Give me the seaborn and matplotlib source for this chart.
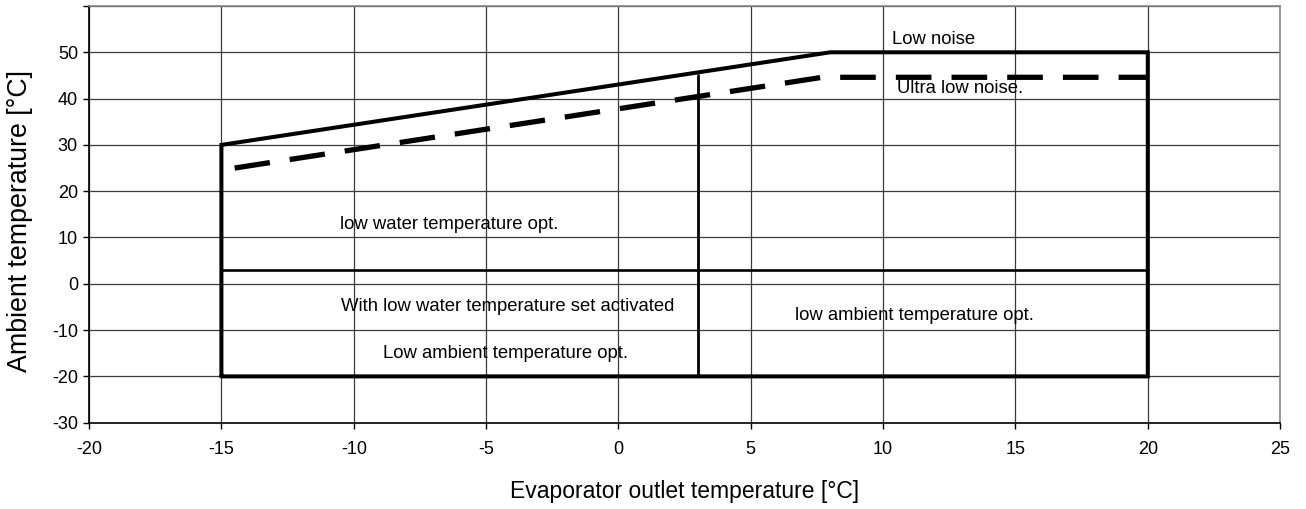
import numpy as np
import pandas as pd
import matplotlib
matplotlib.use("Agg")
import matplotlib.pyplot as plt
import seaborn as sns


# Operating envelope (solid outline, low noise limit)
envelope_x = [-15, -15, 8, 20, 20, -15]
envelope_y = [-20, 30, 50, 50, -20, -20]

# Ultra low noise limit (dashed)
ulnoise_x = [-14.5, 7.7, 20]
ulnoise_y = [25, 44.6, 44.6]

# Internal split lines
split_h_x = [-15, 20]
split_h_y = [3, 3]
split_v_x = [3, 3]
split_v_y = [-20, 45]

x_ticks = list(range(-20, 26, 5))
y_ticks = list(range(-30, 61, 10))
y_ticklabels = [str(v) for v in y_ticks[:-1]] + [""]


def draw_line(ax, xs, ys, **kw):
    df = pd.DataFrame({"x": xs, "y": ys})
    sns.lineplot(data=df, x="x", y="y", sort=False, estimator=None, color="black",
                 ax=ax, zorder=3, **kw)


def main():
    sns.set_style("white")
    plt.rcParams["font.family"] = ["Liberation Sans", "DejaVu Sans"]
    plt.rcParams["axes.unicode_minus"] = False
    for key in ["text.color", "axes.labelcolor", "xtick.color", "ytick.color"]:
        plt.rcParams[key] = "black"

    fig = plt.figure(figsize=(13.06, 5.09), dpi=100)
    ax = fig.add_axes([0.0682, 0.1696, 0.9120, 0.8186])

    # grid lines
    for xv in x_ticks:
        ax.axvline(xv, color="#3a3a3a", lw=0.9, zorder=1)
    for yv in y_ticks:
        ax.axhline(yv, color="#3a3a3a", lw=0.9, zorder=1)

    draw_line(ax, envelope_x, envelope_y, linewidth=2.9, solid_joinstyle="miter")
    draw_line(ax, ulnoise_x, ulnoise_y, linewidth=3.8, linestyle=(0, (6.75, 3.8)),
              dash_capstyle="butt")
    draw_line(ax, split_h_x, split_h_y, linewidth=1.9)
    draw_line(ax, split_v_x, split_v_y, linewidth=2.0)

    # region labels
    fs = 13.3
    ax.text(11.9, 52.7, "Low noise", fontsize=fs, ha="center", va="center")
    ax.text(12.9, 42.1, "Ultra low noise.", fontsize=fs, ha="center", va="center")
    ax.text(-6.4, 12.7, "low water temperature opt.", fontsize=fs, ha="center", va="center")
    ax.text(-4.2, -5.0, "With low water temperature set activated", fontsize=fs,
            ha="center", va="center")
    ax.text(-4.25, -15.1, "Low ambient temperature opt.", fontsize=fs, ha="center", va="center")
    ax.text(11.2, -6.8, "low ambient temperature opt.", fontsize=fs, ha="center", va="center")

    ax.set_xlim(-20, 25)
    ax.set_ylim(-30, 60)
    ax.set_xticks(x_ticks)
    ax.set_yticks(y_ticks)
    ax.set_yticklabels(y_ticklabels)
    ax.tick_params(axis="both", labelsize=13, direction="out", length=4, width=1,
                   color="black", left=True, bottom=True)
    ax.tick_params(axis="x", pad=9)
    ax.tick_params(axis="y", pad=4)
    ax.set_xlabel("Evaporator outlet temperature [°C]", fontsize=16.5, labelpad=16)
    ax.set_ylabel("Ambient temperature [°C]", fontsize=19.3)
    ax.yaxis.set_label_coords(-0.047, 0.484)

    for side in ["left", "bottom"]:
        ax.spines[side].set_color("black")
        ax.spines[side].set_linewidth(1.2)
    for side in ["top", "right"]:
        ax.spines[side].set_color("#888888")
        ax.spines[side].set_linewidth(1.2)
    ax.set_facecolor("white")

    fig.savefig("out.png", dpi=100, facecolor="white")


if __name__ == "__main__":
    main()
